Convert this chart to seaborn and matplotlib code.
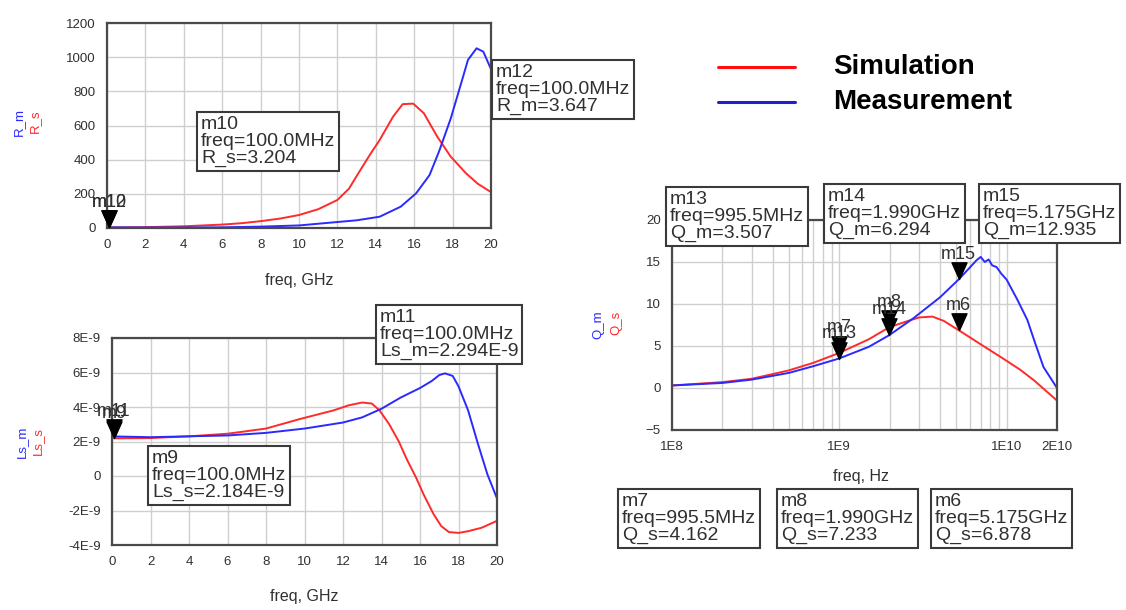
import numpy as np
import matplotlib
matplotlib.use("Agg")
import matplotlib.pyplot as plt
from matplotlib.path import Path
from matplotlib.lines import Line2D
from matplotlib.ticker import MultipleLocator, FixedLocator, NullFormatter
import seaborn as sns

# R (ohm) vs frequency (GHz)
freq_r_sim = [0.1, 2, 4, 6, 7, 8, 9, 10, 11, 12, 12.6, 13.2, 13.7, 14.2, 14.9, 15.4, 15.95, 16.5, 17.2, 17.9, 18.7, 19.3, 20]
r_sim = [3.2, 5, 10, 20, 28, 40, 55, 76, 110, 164, 230, 340, 430, 515, 652, 725, 728, 672, 535, 418, 320, 260, 210]
freq_r_meas = [0.1, 2, 4, 6, 8, 10, 12, 13, 14.2, 15.3, 16.1, 16.8, 17.3, 17.9, 18.4, 18.8, 19.25, 19.6, 20]
r_meas = [3.6, 3, 3, 4, 8, 15, 35, 45, 66, 125, 203, 310, 450, 640, 830, 984, 1052, 1032, 930]

# Ls (nH) vs frequency (GHz)
freq_ls_sim = [0.1, 2, 4, 6, 8, 9.75, 11.5, 12.3, 13.0, 13.5, 13.9, 14.4, 14.9, 15.3, 15.8, 16.2, 16.7, 17.1, 17.5, 18.0, 18.5, 19.2, 20]
ls_sim = [2.184, 2.2, 2.3, 2.45, 2.75, 3.3, 3.8, 4.1, 4.26, 4.2, 3.8, 3.0, 2.0, 1.0, -0.1, -1.1, -2.2, -2.9, -3.25, -3.3, -3.2, -3.0, -2.6]
freq_ls_meas = [0.1, 2, 4, 6, 8, 10, 12, 13, 14, 15, 16, 16.6, 17, 17.3, 17.7, 18, 18.5, 19, 19.5, 20]
ls_meas = [2.294, 2.25, 2.3, 2.35, 2.5, 2.75, 3.1, 3.4, 3.9, 4.55, 5.1, 5.5, 5.85, 5.95, 5.8, 5.2, 3.8, 1.9, 0.1, -1.3]

# Q vs frequency (Hz)
freq_q_sim = [1e8, 2e8, 3e8, 5e8, 7e8, 9.955e8, 1.5e9, 1.99e9, 2.5e9, 3e9, 3.6e9, 4.2e9, 5.175e9, 7e9, 9.2e9, 1.2e10, 1.46e10, 2e10]
q_sim = [0.3, 0.7, 1.1, 2.1, 3.0, 4.162, 5.8, 7.233, 7.9, 8.4, 8.5, 8.0, 6.878, 5.2, 3.7, 2.2, 0.9, -1.5]
freq_q_meas = [1e8, 2e8, 3e8, 5e8, 7e8, 9.955e8, 1.5e9, 1.99e9, 2.77e9, 4e9, 5.175e9, 6e9, 6.6e9, 7e9, 7.4e9,
               7.8e9, 8.2e9, 8.7e9, 9.3e9, 1e10, 1.16e10, 1.33e10, 1.46e10, 1.66e10, 2e10]
q_meas = [0.3, 0.6, 1.0, 1.8, 2.6, 3.507, 4.9, 6.294, 8.3, 10.8, 12.935, 14.3, 15.2, 15.6, 15.0,
          15.3, 14.6, 14.4, 13.6, 12.9, 10.5, 8.1, 5.7, 2.5, 0.0]

ls_ticks = [-4, -2, 0, 2, 4, 6, 8]
ls_tick_labels = ["-4E-9", "-2E-9", "0", "2E-9", "4E-9", "6E-9", "8E-9"]
q_xticks = [1e8, 1e9, 1e10, 2e10]
q_xtick_labels = ["1E8", "1E9", "1E10", "2E10"]

RED = "#ff2a2a"
BLUE = "#2a2aff"
INK = "#303030"
W, H = 1126, 610

sns.set_style("white")
plt.rcParams["font.family"] = ["Liberation Sans", "DejaVu Sans"]

fig = plt.figure(figsize=(W / 100, H / 100), dpi=100)


def rect(left, top, right, bottom):
    return [left / W, 1 - bottom / H, (right - left) / W, (bottom - top) / H]


def fx(x):
    return x / W


def fy(y):
    return 1 - y / H


# marker triangle with its tip at the data point
tri = Path([(-0.45, 1.0), (0.45, 1.0), (0.0, 0.0), (-0.45, 1.0)],
           [Path.MOVETO, Path.LINETO, Path.LINETO, Path.CLOSEPOLY])


def style_axes(ax):
    for s in ax.spines.values():
        s.set_color("#4a4a4a")
        s.set_linewidth(1.6)
    ax.grid(which="major", color="#cfcfcf", lw=1.0)
    ax.tick_params(which="both", direction="out", color="#4a4a4a", labelsize=9.5,
                   labelcolor=INK, pad=4)
    ax.tick_params(which="major", length=4, width=1)
    ax.tick_params(which="minor", length=4, width=1)
    ax.set_ylabel("")


def add_marker(ax, x, y, name):
    ax.plot([x], [y], marker=tri, ms=24, color="black", mec="black", zorder=5, clip_on=False)
    ax.annotate(name, (x, y), xytext=(0, 12), textcoords="offset points", ha="center",
                va="bottom", fontsize=13, color=INK, zorder=6, annotation_clip=False)


def readout(x, y, text):
    fig.text(fx(x + 4), fy(y + 4), text, ha="left", va="top", fontsize=14, color=INK,
             linespacing=1.0, zorder=10,
             bbox=dict(boxstyle="square,pad=0.2", fc="white", ec="#3a3a3a", lw=1.5))


# ---- R plot
ax_r = fig.add_axes(rect(107, 23, 491, 228))
sns.lineplot(x=freq_r_sim, y=r_sim, color=RED, lw=1.4, ax=ax_r, sort=False, estimator=None)
sns.lineplot(x=freq_r_meas, y=r_meas, color=BLUE, lw=1.4, ax=ax_r, sort=False, estimator=None)
ax_r.set_xlim(0, 20)
ax_r.set_ylim(0, 1200)
ax_r.xaxis.set_major_locator(MultipleLocator(2))
ax_r.xaxis.set_minor_locator(MultipleLocator(1))
ax_r.yaxis.set_major_locator(MultipleLocator(200))
ax_r.yaxis.set_minor_locator(MultipleLocator(100))
style_axes(ax_r)
ax_r.set_xlabel("freq, GHz", fontsize=11.5, color=INK)
ax_r.xaxis.set_label_coords(0.5, -0.255)
ax_r.xaxis.label.set_va("center")
add_marker(ax_r, 0.1, 3.647, "m12")
add_marker(ax_r, 0.1, 3.204, "m10")

# ---- Ls plot
ax_l = fig.add_axes(rect(112, 338, 497, 545))
sns.lineplot(x=freq_ls_sim, y=ls_sim, color=RED, lw=1.4, ax=ax_l, sort=False, estimator=None)
sns.lineplot(x=freq_ls_meas, y=ls_meas, color=BLUE, lw=1.4, ax=ax_l, sort=False, estimator=None)
ax_l.set_xlim(0, 20)
ax_l.set_ylim(-4, 8)
ax_l.xaxis.set_major_locator(MultipleLocator(2))
ax_l.xaxis.set_minor_locator(MultipleLocator(1))
ax_l.set_yticks(ls_ticks)
ax_l.set_yticklabels(ls_tick_labels)
ax_l.yaxis.set_minor_locator(MultipleLocator(1))
style_axes(ax_l)
ax_l.set_xlabel("freq, GHz", fontsize=11.5, color=INK)
ax_l.xaxis.set_label_coords(0.5, -0.25)
ax_l.xaxis.label.set_va("center")
add_marker(ax_l, 0.1, 2.294, "m11")
add_marker(ax_l, 0.1, 2.184, "m9")

# ---- Q plot
ax_q = fig.add_axes(rect(672, 220, 1057, 430))
sns.lineplot(x=freq_q_sim, y=q_sim, color=RED, lw=1.4, ax=ax_q, sort=False, estimator=None)
sns.lineplot(x=freq_q_meas, y=q_meas, color=BLUE, lw=1.4, ax=ax_q, sort=False, estimator=None)
ax_q.set_xscale("log")
ax_q.set_xlim(1e8, 2e10)
ax_q.set_ylim(-5, 20)
ax_q.xaxis.set_major_locator(FixedLocator(q_xticks))
ax_q.set_xticklabels(q_xtick_labels)
ax_q.xaxis.set_minor_locator(FixedLocator([m * 10 ** e for e in (8, 9) for m in range(2, 10)]))
ax_q.xaxis.set_minor_formatter(NullFormatter())
ax_q.yaxis.set_major_locator(MultipleLocator(5))
style_axes(ax_q)
ax_q.xaxis.grid(which="minor", color="#cfcfcf", lw=1.0)
ax_q.tick_params(axis="x", which="minor", length=0)
ax_q.set_xlabel("freq, Hz", fontsize=11.5, color=INK)
ax_q.xaxis.set_label_coords(0.49, -0.22)
ax_q.xaxis.label.set_va("center")
add_marker(ax_q, 9.955e8, 4.162, "m7")
add_marker(ax_q, 9.955e8, 3.507, "m13")
add_marker(ax_q, 1.99e9, 7.233, "m8")
add_marker(ax_q, 1.99e9, 6.294, "m14")
add_marker(ax_q, 5.175e9, 12.935, "m15")
add_marker(ax_q, 5.175e9, 6.878, "m6")

# ---- two-colour y labels
for x, y, txt, c in [(19, 122, "R_m", BLUE), (35, 121, "R_s", RED),
                     (22, 442, "Ls_m", BLUE), (38, 441, "Ls_s", RED),
                     (598, 325, "Q_m", BLUE), (616, 323, "Q_s", RED)]:
    fig.text(fx(x), fy(y), txt, rotation=90, ha="center", va="center", fontsize=9.5, color=c)

# ---- marker readouts
readout(197, 112, "m10\nfreq=100.0MHz\nR_s=3.204")
readout(492, 60, "m12\nfreq=100.0MHz\nR_m=3.647")
readout(148, 446, "m9\nfreq=100.0MHz\nLs_s=2.184E-9")
readout(376, 305, "m11\nfreq=100.0MHz\nLs_m=2.294E-9")
readout(666, 187, "m13\nfreq=995.5MHz\nQ_m=3.507")
readout(824, 184, "m14\nfreq=1.990GHz\nQ_m=6.294")
readout(979, 184, "m15\nfreq=5.175GHz\nQ_m=12.935")
readout(618, 489, "m7\nfreq=995.5MHz\nQ_s=4.162")
readout(777, 489, "m8\nfreq=1.990GHz\nQ_s=7.233")
readout(931, 489, "m6\nfreq=5.175GHz\nQ_s=6.878")

# ---- legend
for y, c, label in [(67, "#ff1010", "Simulation"), (102, "#2020d0", "Measurement")]:
    fig.add_artist(Line2D([fx(718), fx(795)], [fy(y), fy(y)], color=c, lw=2.2))
    fig.text(fx(833), fy(y), label, ha="left", va="center", fontsize=20, fontweight="bold", color="black")

fig.savefig("out.png", dpi=100)
